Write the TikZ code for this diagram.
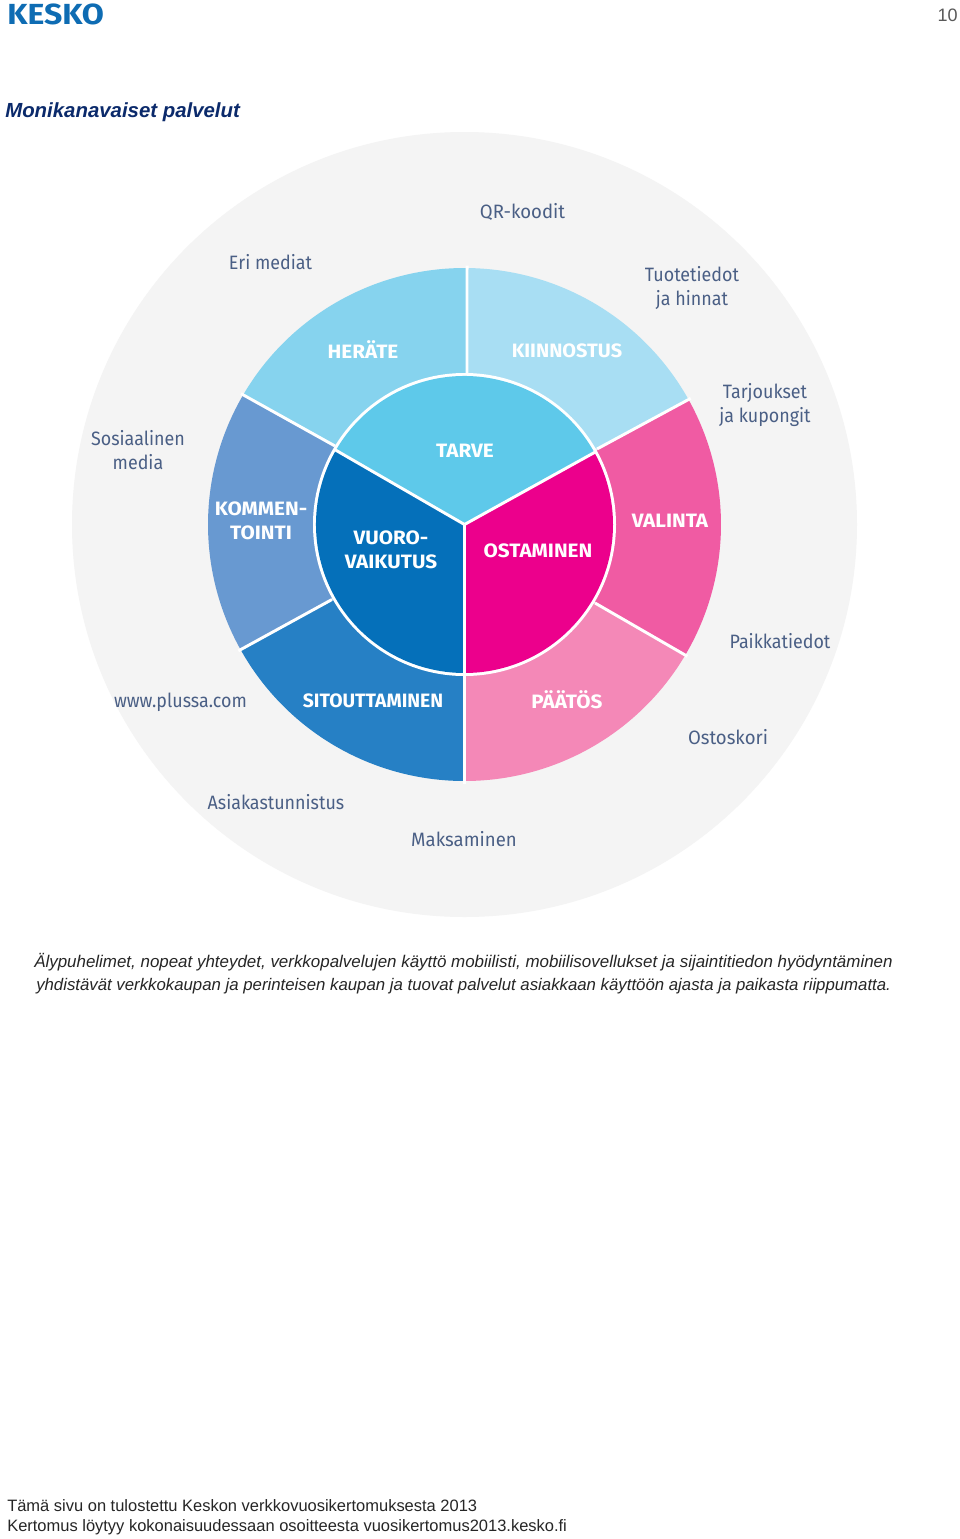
\documentclass[tikz,border=0pt]{standalone}
\usepackage{fontspec}
\setmainfont{Liberation Sans}
\newfontfamily\wheelfont{Fira Sans}
\newfontfamily\segfont[FakeStretch=1.07]{Fira Sans}
\newfontfamily\segmid[FakeStretch=1.03]{Fira Sans}
\newfontfamily\lblfont[FakeStretch=0.925]{Fira Sans}
\newfontfamily\lblwide[FakeStretch=0.96]{Fira Sans}
\newfontfamily\logofont[FakeStretch=1.1]{Fira Sans}
\definecolor{ringgray}{HTML}{F4F4F4}
\definecolor{cHerate}{HTML}{86D3EE}
\definecolor{cKiin}{HTML}{A8DEF3}
\definecolor{cVal}{HTML}{F05BA3}
\definecolor{cPaa}{HTML}{F488B7}
\definecolor{cSit}{HTML}{2680C5}
\definecolor{cKom}{HTML}{6899D1}
\definecolor{cTarve}{HTML}{5EC9EA}
\definecolor{cVuoro}{HTML}{0570BA}
\definecolor{cOst}{HTML}{EC008C}
\definecolor{lab}{HTML}{4A5F85}
\definecolor{logoblue}{HTML}{0E6CB3}
\definecolor{headblue}{HTML}{0B2A6B}
\tikzset{
  sep/.style={draw=white,line width=2.2pt},
  seg/.style={font=\segfont\bfseries\fontsize{14.5}{18}\selectfont,align=center,inner sep=0pt,text=white},
  lbl/.style={font=\lblfont\fontsize{14.5}{18}\selectfont,align=center,inner sep=0pt,text=lab},
  lblw/.style={font=\lblwide\fontsize{14.5}{18}\selectfont,align=center,inner sep=0pt,text=lab},
  body/.style={font=\itshape\fontsize{12.7}{16}\selectfont,anchor=base west,inner sep=0pt,text=black!85},
  foot/.style={font=\fontsize{12.36}{16}\selectfont,anchor=base west,inner sep=0pt,text=black!85}
}
\begin{document}
\begin{tikzpicture}[x=0.75pt,y=-0.75pt]
\useasboundingbox (0,0) rectangle (960,1539);
\fill[white] (0,0) rectangle (960,1539);
\fill[ringgray] (464.5,524.5) circle[radius=392.5];
\begin{scope}[shift={(464.5,524.5)},yscale=-1]
  \def\RO{256.5}\def\RI{148.5}
  \coordinate (ur) at (132.5,75.5);
  \coordinate (ul) at (-129.5,78.5);
  \coordinate (lr) at (130.5,-78.5);
  \coordinate (ll) at (-132.5,-75);
  \coordinate (tp) at (2.5,150);
  \coordinate (bt) at (0,-150);
  \fill[cKiin] (ur) -- (29.15:\RO) arc[start angle=29.15,end angle=89.44,radius=\RO] -- (tp) -- cycle;
  \fill[cHerate] (tp) -- (89.44:\RO) arc[start angle=89.44,end angle=149.65,radius=\RO] -- (ul) -- cycle;
  \fill[cKom] (ul) -- (149.65:\RO) arc[start angle=149.65,end angle=209.2,radius=\RO] -- (ll) -- cycle;
  \fill[cSit] (ll) -- (209.2:\RO) arc[start angle=209.2,end angle=270,radius=\RO] -- (bt) -- cycle;
  \fill[cPaa] (bt) -- (270:\RO) arc[start angle=270,end angle=329.4,radius=\RO] -- (lr) -- cycle;
  \fill[cVal] (lr) -- (-30.6:\RO) arc[start angle=-30.6,end angle=29.15,radius=\RO] -- (ur) -- cycle;
  \draw[sep] (tp) -- (89.44:259);
  \draw[sep] (bt) -- (270:259);
  \draw[sep] (ur) -- (29.15:259);
  \draw[sep] (ul) -- (149.65:259);
  \draw[sep] (lr) -- (-30.6:259);
  \draw[sep] (ll) -- (209.2:259);
  \fill[white] (0,0) circle[radius=151.5];
  \fill[cTarve] (0,0) -- (29:\RI) arc[start angle=29,end angle=150,radius=\RI] -- cycle;
  \fill[cVuoro] (0,0) -- (150:\RI) arc[start angle=150,end angle=270,radius=\RI] -- cycle;
  \fill[cOst] (0,0) -- (270:\RI) arc[start angle=270,end angle=389,radius=\RI] -- cycle;
  \draw[sep] (0,0) -- (29:151);
  \draw[sep] (0,0) -- (150:151);
  \draw[sep] (0,0) -- (270:151);
\end{scope}
\node[seg] (tarve) at (465,451) {TARVE};
\node[seg] (vuoro) at (391,550) {VUORO-\\VAIKUTUS};
\node[seg] (ost) at (538,551) {OSTAMINEN};
\node[seg] (herate) at (363,350) {HERÄTE};
\node[seg,font=\segmid\bfseries\fontsize{14.5}{18}\selectfont] (kiin) at (567,351) {KIINNOSTUS};
\node[seg] (val) at (670,521) {VALINTA};
\node[seg] (paa) at (567,700) {PÄÄTÖS};
\node[seg,font=\wheelfont\bfseries\fontsize{14.5}{18}\selectfont] (sit) at (373,701) {SITOUTTAMINEN};
\node[seg] (kom) at (261,521) {KOMMEN-\\TOINTI};
\node[lblw] (qr) at (522.5,212) {QR-koodit};
\node[lbl] (eri) at (270.5,262) {Eri mediat};
\node[lbl] (tuo) at (692,288) {Tuotetiedot\\ja hinnat};
\node[lbl] (tar) at (765,405) {Tarjoukset\\ja kupongit};
\node[lbl] (sos) at (138,450) {Sosiaalinen\\media};
\node[lbl] (pai) at (780,641) {Paikkatiedot};
\node[lbl] (www) at (180.5,702) {www.plussa.com};
\node[lblw] (osto) at (728,737.5) {Ostoskori};
\node[lbl] (asi) at (276,802) {Asiakastunnistus};
\node[lblw] (mak) at (464,839) {Maksaminen};
\node[font=\logofont\bfseries\fontsize{21.8}{24}\selectfont,text=logoblue,anchor=base west,inner sep=0pt] (logo) at (7,24.5) {KESKO};
\node[font=\fontsize{13.5}{16}\selectfont,text=black!65,anchor=base east,inner sep=0pt] (pg) at (958,21) {10};
\node[font=\bfseries\itshape\fontsize{15.3}{18}\selectfont,text=headblue,anchor=base west,inner sep=0pt] (head) at (5,117) {Monikanavaiset palvelut};
\node[body] (b1) at (34,967) {Älypuhelimet, nopeat yhteydet, verkkopalvelujen käyttö mobiilisti, mobiilisovellukset ja sijaintitiedon hyödyntäminen};
\node[body,font=\itshape\fontsize{12.59}{16}\selectfont] (b2) at (36,990) {yhdistävät verkkokaupan ja perinteisen kaupan ja tuovat palvelut asiakkaan käyttöön ajasta ja paikasta riippumatta.};
\node[foot] (f1) at (7,1511) {Tämä sivu on tulostettu Keskon verkkovuosikertomuksesta 2013};
\node[foot] (f2) at (7,1531) {Kertomus löytyy kokonaisuudessaan osoitteesta vuosikertomus2013.kesko.fi};
\end{tikzpicture}
\end{document}
